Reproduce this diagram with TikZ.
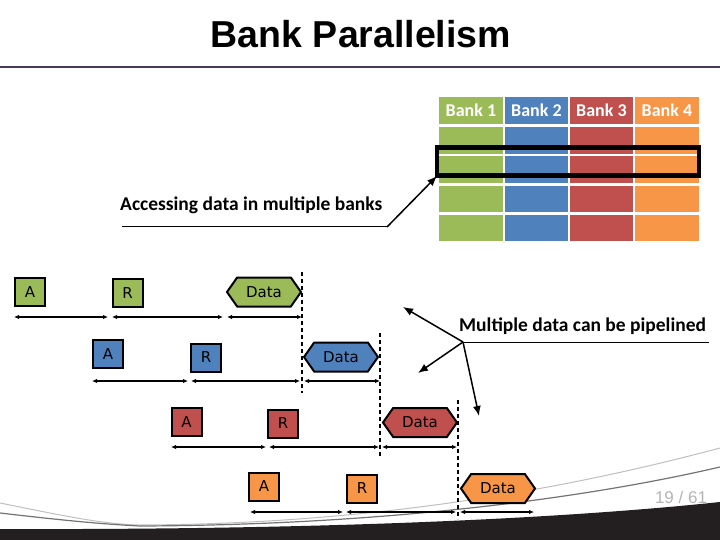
\documentclass[tikz,border=0pt]{standalone}
\usepackage{fontspec}
\setmainfont{Liberation Sans}
\newfontfamily\calib{Carlito}
\newfontfamily\tah{DejaVu Sans}
\usetikzlibrary{arrows.meta,shapes.symbols}
\definecolor{bgreen}{HTML}{9BBB59}
\definecolor{bblue}{HTML}{4F81BD}
\definecolor{bred}{HTML}{C0504D}
\definecolor{borange}{HTML}{F79646}
\definecolor{rulecol}{HTML}{463A5A}
\definecolor{darkband}{HTML}{231F20}
\definecolor{pagegrey}{HTML}{B4B4B4}
\tikzset{
  cell/.style={minimum width=63.5pt,minimum height=26.5pt,inner sep=0pt,anchor=north west},
  hdr/.style={cell,text=white,font=\calib\fontsize{18}{20}\selectfont\bfseries},
  sbox/.style={draw=black,line width=2pt,minimum width=30pt,minimum height=28pt,inner sep=0pt,font=\tah\fontsize{15}{17}\selectfont},
  dbox/.style={sbox,signal,signal to=west and east,signal pointer angle=110,minimum width=74pt,minimum height=29pt},
  tl/.style={line width=1.5pt,{Latex[length=5pt,width=4.5pt]}-{Latex[length=5pt,width=4.5pt]}},
  vdash/.style={line width=1.5pt,dash pattern=on 4pt off 3pt},
  callout/.style={line width=1.5pt,-{Latex[length=10pt,width=8pt]}},
  lbl/.style={font=\calib\fontsize{19.5}{22}\selectfont\bfseries,inner sep=0pt}
}
\begin{document}
\begin{tikzpicture}[x=1pt,y=-1pt]
\useasboundingbox (0,0) rectangle (720,540);
% bottom decoration
\fill[darkband] (0,540) -- (0,529) .. controls (300,530) and (550,520) .. (720,502) -- (720,540) -- cycle;
\draw[black!25,line width=1pt] (0,503) .. controls (60,515) and (100,524) .. (140,525) .. controls (400,524) and (600,480) .. (720,448);
\draw[black!55,line width=1.2pt] (0,513) .. controls (60,520) and (100,524) .. (140,526) .. controls (400,525) and (600,495) .. (720,467);
% title
\node[font=\fontsize{37.5}{42}\selectfont\bfseries] (title) at (361,34) {Bank Parallelism};
\draw[rulecol,line width=2pt] (0,67) -- (720,67);
% bank table
\foreach \c/\x/\n in {bgreen/439/1,bblue/504.5/2,bred/569.5/3,borange/635/4}{
  \node[hdr,fill=\c] (h\n) at (\x,97) {Bank \n};
  \foreach \y/\r in {127/1,156/2,185.5/3,214.5/4}{
    \node[cell,fill=\c] (c\n\r) at (\x,\y) {};
  }
}
\draw[line width=4.5pt] (437,147.5) rectangle (699,175.5);
\coordinate (boxleft) at (437,176);
% callout 1
\node[lbl,anchor=base west] (acc) at (120,211) {Accessing data in multiple banks};
\coordinate (u1) at (122,227);
\coordinate (u2) at (387,227);
\draw[line width=1pt] (u1) -- (u2);
\draw[callout] (u2) -- (boxleft);
% callout 2
\node[lbl,anchor=base west] (mdp) at (459,331) {Multiple data can be pipelined};
\coordinate (j) at (463,342);
\coordinate (u3) at (709,342);
\draw[line width=1pt] (j) -- (u3);
\coordinate (t1) at (403,307);
\coordinate (t2) at (418,373);
\coordinate (t3) at (479,416);
\draw[callout] (j) -- (t1);
\draw[callout] (j) -- (t2);
\draw[callout] (j) -- (t3);
% row 1
\node[sbox,fill=bgreen] (a1) at (30,292) {A};
\node[sbox,fill=bgreen] (r1) at (127.5,293) {R};
\node[dbox,fill=bgreen] (d1) at (264,292) {Data};
\draw[tl] (14,317) -- (108,317);
\draw[tl] (112,317) -- (223,317);
\draw[tl] (227,317) -- (302,317);
% row 2
\node[sbox,fill=bblue] (a2) at (108,354) {A};
\node[sbox,fill=bblue] (r2) at (206,357.5) {R};
\node[dbox,fill=bblue] (d2) at (341,357) {Data};
\draw[tl] (92,381) -- (188,381);
\draw[tl] (191,381) -- (300,381);
\draw[tl] (304,381) -- (380,381);
% row 3
\node[sbox,fill=bred] (a3) at (186.5,422) {A};
\node[sbox,fill=bred] (r3) at (283,423.5) {R};
\node[dbox,fill=bred] (d3) at (420,422.5) {Data};
\draw[tl] (171,447) -- (266,447);
\draw[tl] (269,447) -- (379,447);
\draw[tl] (382,447) -- (457,447);
% row 4
\node[sbox,fill=borange] (a4) at (264,486.5) {A};
\node[sbox,fill=borange] (r4) at (362,488.5) {R};
\node[dbox,fill=borange] (d4) at (498,488.5) {Data};
\draw[tl] (250,512) -- (343,512);
\draw[tl] (346,512) -- (456,512);
\draw[tl] (460,512) -- (534,512);
% dashed markers
\draw[vdash] (302,272) -- (302,393);
\draw[vdash] (380,333) -- (380,456);
\draw[vdash] (458,400) -- (458,519);
% page number
\node[text=pagegrey,font=\fontsize{17}{19}\selectfont] (pg) at (681,497) {19 / 61};
\end{tikzpicture}
\end{document}
